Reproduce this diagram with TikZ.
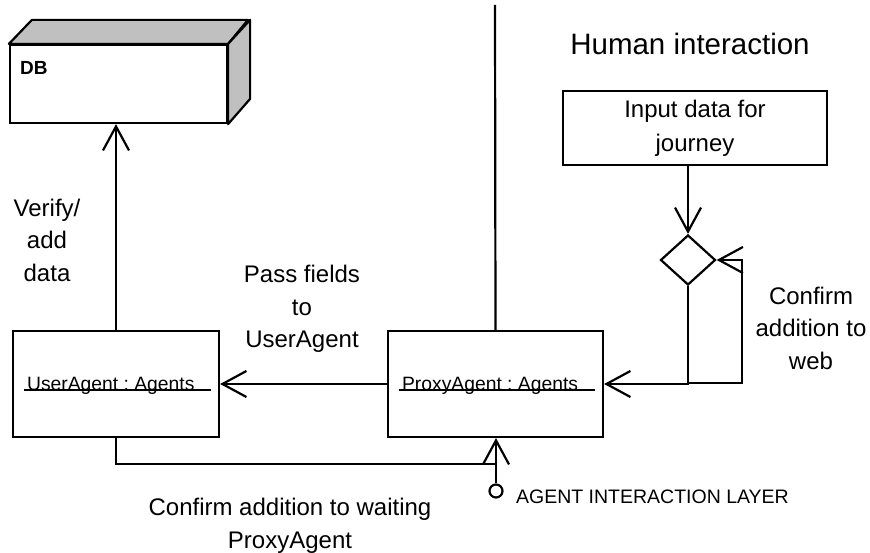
\documentclass[tikz,border=0pt]{standalone}
\usepackage{fontspec}
\setmainfont{Liberation Sans}
\usetikzlibrary{arrows.meta,shapes.geometric}
\frenchspacing

\begin{document}
\begin{tikzpicture}[x=1pt, y=-1pt, line width=2.2pt,
        >={Straight Barb[length=24pt,width=26pt]},
        box/.style={rectangle, draw, inner sep=0pt},
        lbl/.style={align=center, font=\fontsize{24}{32.5}\selectfont},
        objname/.style={inner sep=0pt, font=\fontsize{19.3}{23}\selectfont},
    ]
    \useasboundingbox (0,0) rectangle (870,553);

    \node[box, minimum width=217pt, minimum height=78pt] (db) at (118.5,84) {};
    \node[box, minimum width=206pt, minimum height=106pt] (user) at (116,384) {};
    \node[box, minimum width=215pt, minimum height=106pt] (proxy) at (495.5,384) {};
    \node[box, minimum width=264pt, minimum height=74pt, align=center,
        font=\fontsize{24}{34}\selectfont] (input) at (695,128) {Input data for\\journey};
    \node[diamond, draw, inner sep=0pt, minimum width=55pt, minimum height=50pt] (choice) at (688,260) {};
    \node[circle, draw, inner sep=0pt, minimum size=13pt, line width=2.2pt] (layer) at (496,491) {};
    \coordinate (top) at (495,5);
    \coordinate (loop) at (742,383);
    \coordinate (join) at (495,464);

    % 3d faces of the DB box
    \draw[fill={rgb,255:red,192;green,192;blue,192}, line join=round]
        (db.north west) -- ++(23,-24) -- ++(216,0) -- (db.north east) -- cycle;
    \draw[fill={rgb,255:red,192;green,192;blue,192}, line join=round]
        (db.north east) -- ++(22,-24) -- ++(0,79) -- (db.south east) -- cycle;

    \node[inner sep=0pt, anchor=base west, font=\fontsize{19}{20}\selectfont\bfseries] (dbname) at (19,75) {DB};
    \node[objname, anchor=base west] (username) at (26,390) {UserAgent : Agents};
    \node[objname, anchor=base west] (proxyname) at (401,390) {ProxyAgent : Agents};
    \draw[line width=1.6pt] ([xshift=12pt]user.west |- username.base) -- ([xshift=-9pt]user.east |- username.base);
    \draw[line width=1.6pt] ([xshift=12pt]proxy.west |- proxyname.base) -- ([xshift=-9pt]proxy.east |- proxyname.base);

    \node[inner sep=0pt, anchor=base, font=\fontsize{29.5}{32}\selectfont] (human) at (690,55) {Human interaction};
    \node[lbl] (verify) at (47,240) {Verify/\\add\\data};
    \node[lbl] (pass) at (302,309) {Pass fields\\to\\UserAgent};
    \node[lbl] (web) at (811,328) {Confirm\\addition to\\web};
    \node[lbl] (waiting) at (290,526) {Confirm addition to waiting\\ProxyAgent};
    \node[inner sep=0pt, anchor=base west, font=\fontsize{19.5}{22}\selectfont] (layername) at (515,503) {AGENT INTERACTION LAYER};

    \draw[->] (user.north) -- (user.north |- db.south);
    \draw[->] (proxy) -- (user);
    \draw (top) -- (proxy.north);
    \draw[->] (input.south -| choice.north) -- (choice.north);
    \draw[->] (choice.south) |- (proxy.east);
    \draw[->] (choice.south |- loop) -- (loop) |- (choice.east);
    \draw (user.south) |- (join);
    \draw[->] (layer.north) -- (layer.north |- proxy.south);
\end{tikzpicture}
\end{document}
